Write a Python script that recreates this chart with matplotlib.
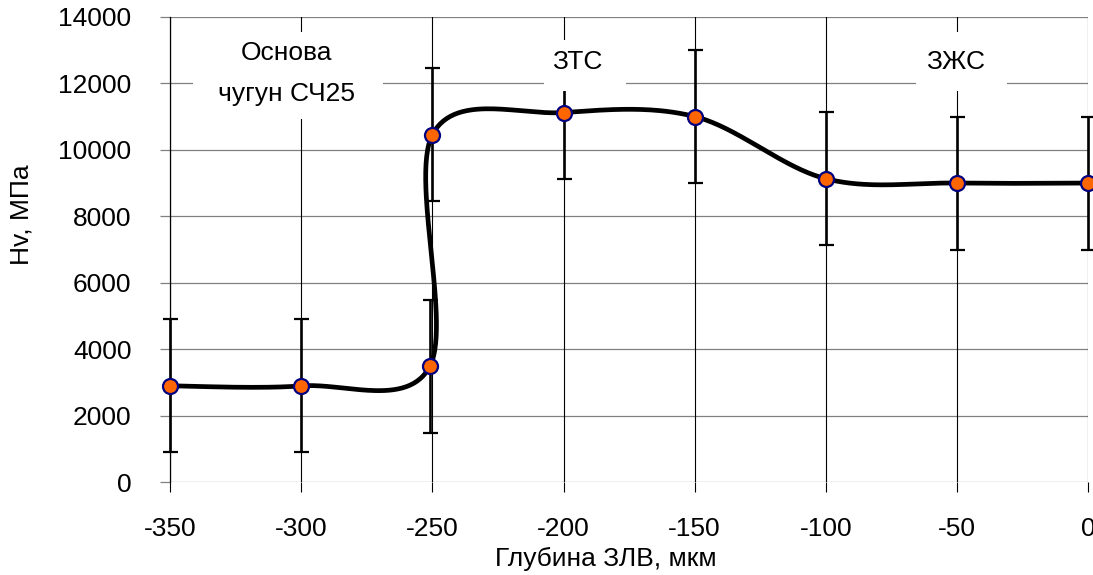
import numpy as np
import matplotlib
matplotlib.use("Agg")
import matplotlib.pyplot as plt
from matplotlib.patches import Rectangle

plt.rcParams['font.family'] = ['Liberation Sans', 'DejaVu Sans']

# Microhardness profile across the remelted zone
depth = [-350, -300, -251, -250, -200, -150, -100, -50, 0]
hardness = [2900, 2900, 3490, 10460, 11120, 11000, 9130, 9000, 9000]
hardness_err = [2000, 2000, 2000, 2000, 2000, 2000, 2000, 2000, 2000]

x_ticks = [-350, -300, -250, -200, -150, -100, -50, 0]
y_ticks = [0, 2000, 4000, 6000, 8000, 10000, 12000, 14000]

x_label = "Глубина ЗЛВ, мкм"
y_label = "Hv, МПа"
zone_base = ["Основа", "чугун СЧ25"]
zone_hz = "ЗТС"
zone_melt = "ЗЖС"


def smooth_curve(xs, ys, n=60):
    """Piecewise cubic Bezier through the points (Catmull-Rom tangents)."""
    p = np.column_stack([xs, ys]).astype(float)
    m = len(p)
    out = []
    for i in range(m - 1):
        p0 = p[i]
        p3 = p[i + 1]
        prev = p[i - 1] if i > 0 else p[i]
        nxt = p[i + 2] if i + 2 < m else p[i + 1]
        c1 = p0 + (p3 - prev) / 6.0
        c2 = p3 - (nxt - p0) / 6.0
        t = np.linspace(0, 1, n)[:, None]
        seg = ((1 - t) ** 3 * p0 + 3 * (1 - t) ** 2 * t * c1
               + 3 * (1 - t) * t ** 2 * c2 + t ** 3 * p3)
        out.append(seg if i == 0 else seg[1:])
    seg = np.vstack(out)
    return seg[:, 0], seg[:, 1]


fig = plt.figure(figsize=(10.93, 5.75), dpi=100)
ax = fig.add_axes([0.1558, 0.1612, 0.8396, 0.8096])

ax.set_xlim(-350, 0)
ax.set_ylim(0, 14000)
ax.set_xticks(x_ticks)
ax.set_yticks(y_ticks)
ax.set_xticklabels([str(v) for v in x_ticks])
ax.set_yticklabels([str(v) for v in y_ticks])

# grid: gray horizontals, thin black verticals
for v in y_ticks:
    ax.axhline(v, color='#808080', lw=0.9, zorder=1)
for v in x_ticks:
    ax.axvline(v, color='black', lw=0.8, zorder=1)

for s in ['top', 'right', 'bottom']:
    ax.spines[s].set_visible(False)
ax.spines['left'].set_color('black')
ax.spines['left'].set_linewidth(0.9)

ax.tick_params(axis='y', direction='out', length=7, width=0.9, color='#808080',
               labelsize=19, pad=21)
ax.tick_params(axis='x', direction='out', length=7, width=0.8, color='black',
               labelsize=19, pad=18)

# error bars
eb = ax.errorbar(depth, hardness, yerr=hardness_err, fmt='none', ecolor='black',
                 elinewidth=1.9, capsize=5.4, capthick=1.6, zorder=3)
for art in eb.lines[1]:
    art.set_clip_on(False)
for art in eb.lines[2]:
    art.set_clip_on(False)

# zone labels on white backgrounds (drawn over the grid and error bars)
ax.add_patch(Rectangle((-341.4, 10926), 72.4, 2617, facecolor='white',
                       edgecolor='none', zorder=4))
ax.add_patch(Rectangle((-207.3, 11768), 31.2, 1534, facecolor='white',
                       edgecolor='none', zorder=4))
ax.add_patch(Rectangle((-65.7, 11768), 35.0, 1775, facecolor='white',
                       edgecolor='none', zorder=4))
ax.text(-305.5, 12900, zone_base[0], ha='center', va='center', fontsize=19, zorder=4.5)
ax.text(-305.5, 11680, zone_base[1], ha='center', va='center', fontsize=19, zorder=4.5)
ax.text(-194.7, 12640, zone_hz, ha='center', va='center', fontsize=19, zorder=4.5)
ax.text(-50.5, 12640, zone_melt, ha='center', va='center', fontsize=19, zorder=4.5)

# smoothed line and markers
sx, sy = smooth_curve(depth, hardness)
ax.plot(sx, sy, color='black', lw=3.4, zorder=5, solid_capstyle='round',
        clip_on=False)
ax.plot(depth, hardness, linestyle='none', marker='o', markersize=10.8,
        markerfacecolor='#FF6600', markeredgecolor='#000080',
        markeredgewidth=1.6, zorder=6, clip_on=False)

fig.text(606 / 1093, 1 - 559 / 575, x_label, ha='center', va='center', fontsize=19)
fig.text(22 / 1093, 1 - 215 / 575, y_label, ha='center', va='center',
         fontsize=19, rotation=90)

fig.savefig('out.png', dpi=100)
